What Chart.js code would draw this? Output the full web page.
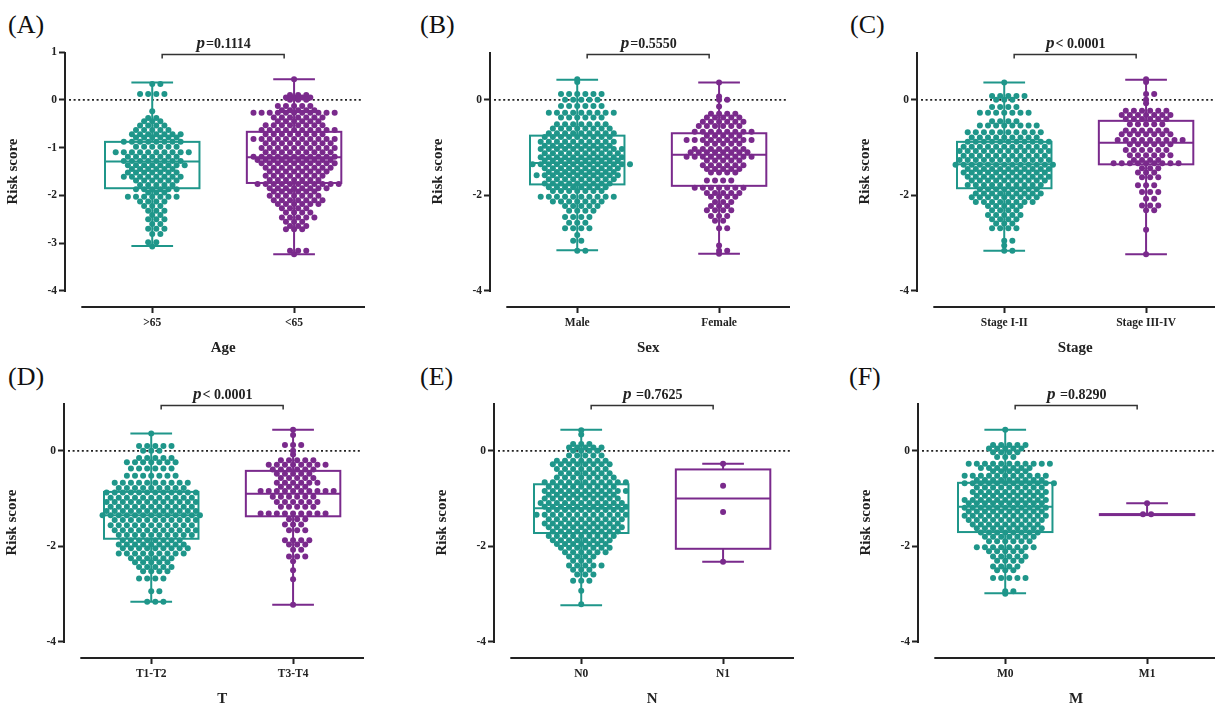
<!DOCTYPE html>
<html>
<head>
<meta charset="UTF-8">
<title>Risk score by clinical feature</title>
<script src="https://cdn.jsdelivr.net/npm/chart.js@4.4.0/dist/chart.umd.min.js"></script>
<style>
    body { margin: 0; width: 1215px; height: 706px; overflow: hidden; background: #fff; position: relative; }
    .panel { position: absolute; }
    .lab { position: absolute; font: 26px "Liberation Serif", serif; line-height: 30px; color: #111; }
</style>
<script>
// categories
const ageCats = ['>65', '<65'];
const sexCats = ['Male', 'Female'];
const stageCats = ['Stage I-II', 'Stage III-IV'];
const tCats = ['T1-T2', 'T3-T4'];
const nCats = ['N0', 'N1'];
const mCats = ['M0', 'M1'];

// box stats per group: [min, q1, median, q3, max]
const ageBox = [[-3.06, -1.85, -1.29, -0.88, 0.36], [-3.23, -1.74, -1.2, -0.67, 0.43]];
const sexBox = [[-3.15, -1.77, -1.32, -0.75, 0.42], [-3.22, -1.8, -1.15, -0.7, 0.36]];
const stageBox = [[-3.16, -1.85, -1.35, -0.88, 0.36], [-3.23, -1.35, -0.9, -0.44, 0.42]];
const tBox = [[-3.16, -1.84, -1.35, -0.86, 0.36], [-3.22, -1.37, -0.9, -0.42, 0.44]];
const nBox = [[-3.23, -1.72, -1.2, -0.7, 0.44], [-2.32, -2.05, -1.0, -0.39, -0.27]];
const mBox = [[-2.98, -1.7, -1.17, -0.67, 0.44], [-1.34, -1.345, -1.335, -1.325, -1.1]];

// risk score of the dots, grouped in rows: score level and number of dots in that row
const ageOldY = [0.33, 0.12, -0.24, -0.38, -0.45, -0.54, -0.63, -0.72, -0.79, -0.88, -0.98, -1.1, -1.19, -1.28, -1.37, -1.45, -1.52, -1.61, -1.69, -1.78, -1.87, -1.94, -2.03, -2.13, -2.22, -2.32, -2.41, -2.5, -2.6, -2.7, -2.81, -2.98, -3.07];
const ageOldN = [2, 4, 1, 2, 3, 4, 5, 7, 6, 8, 6, 10, 7, 8, 8, 6, 7, 8, 6, 5, 6, 3, 7, 4, 3, 3, 2, 3, 2, 3, 2, 2, 1];
const ageYoungY = [0.43, 0.1, 0.05, 0.0, -0.13, -0.22, -0.27, -0.37, -0.45, -0.53, -0.63, -0.72, -0.82, -0.91, -1.01, -1.1, -1.19, -1.26, -1.33, -1.42, -1.5, -1.59, -1.68, -1.76, -1.85, -1.92, -2.01, -2.1, -2.18, -2.27, -2.36, -2.46, -2.55, -2.64, -2.71, -3.16, -3.23];
const ageYoungN = [1, 3, 4, 3, 5, 5, 11, 7, 6, 8, 10, 8, 11, 9, 10, 9, 11, 10, 10, 9, 8, 8, 7, 11, 8, 6, 7, 7, 6, 4, 4, 5, 3, 3, 3, 3, 1];

const maleY = [0.43, 0.37, 0.12, 0.0, -0.13, -0.27, -0.37, -0.51, -0.6, -0.7, -0.78, -0.88, -0.96, -1.03, -1.12, -1.2, -1.27, -1.35, -1.43, -1.51, -1.58, -1.66, -1.75, -1.83, -1.91, -2.03, -2.13, -2.22, -2.32, -2.45, -2.57, -2.69, -2.83, -2.95, -3.16];
const maleN = [1, 1, 6, 5, 6, 9, 6, 7, 8, 9, 9, 10, 9, 11, 10, 11, 10, 13, 10, 9, 11, 9, 9, 8, 7, 10, 7, 5, 4, 4, 3, 4, 1, 2, 2];
const femaleY = [0.36, 0.07, 0.0, -0.14, -0.29, -0.37, -0.46, -0.55, -0.67, -0.75, -0.84, -0.92, -1.03, -1.1, -1.19, -1.27, -1.37, -1.45, -1.52, -1.69, -1.84, -1.95, -2.03, -2.14, -2.22, -2.31, -2.43, -2.53, -2.69, -3.05, -3.16, -3.22];
const femaleN = [1, 1, 2, 1, 4, 5, 6, 6, 8, 5, 9, 5, 7, 8, 9, 5, 6, 5, 4, 4, 7, 5, 4, 3, 3, 4, 3, 2, 2, 1, 2, 1];

const stageEarlyY = [0.36, 0.08, 0.0, -0.15, -0.27, -0.45, -0.54, -0.68, -0.79, -0.88, -0.98, -1.07, -1.17, -1.26, -1.36, -1.45, -1.52, -1.61, -1.69, -1.78, -1.87, -1.96, -2.04, -2.14, -2.22, -2.31, -2.41, -2.5, -2.59, -2.69, -2.95, -3.05, -3.16];
const stageEarlyN = [1, 5, 3, 4, 7, 4, 8, 10, 9, 11, 11, 12, 11, 12, 13, 11, 11, 11, 10, 10, 8, 9, 9, 8, 5, 4, 5, 4, 3, 4, 2, 1, 2];
const stageLateY = [0.43, 0.37, 0.12, 0.0, -0.07, -0.23, -0.32, -0.4, -0.51, -0.64, -0.72, -0.84, -0.93, -1.05, -1.16, -1.26, -1.33, -1.43, -1.52, -1.62, -1.79, -1.93, -2.07, -2.21, -2.31, -2.72, -3.23];
const stageLateN = [1, 1, 2, 1, 1, 6, 7, 6, 5, 6, 7, 9, 6, 6, 6, 4, 9, 3, 3, 3, 3, 3, 2, 3, 2, 1, 1];

const t12Y = [0.36, 0.1, 0.0, -0.15, -0.24, -0.37, -0.52, -0.67, -0.78, -0.87, -0.98, -1.07, -1.17, -1.26, -1.35, -1.45, -1.56, -1.66, -1.76, -1.87, -1.96, -2.04, -2.15, -2.25, -2.33, -2.43, -2.52, -2.67, -2.94, -3.16];
const t12N = [1, 5, 3, 5, 7, 6, 7, 10, 9, 12, 11, 12, 11, 12, 13, 11, 11, 11, 10, 8, 9, 9, 9, 6, 5, 5, 4, 4, 2, 3];
const t34Y = [0.44, 0.33, 0.12, 0.0, -0.08, -0.2, -0.29, -0.39, -0.48, -0.57, -0.67, -0.75, -0.84, -0.96, -1.07, -1.17, -1.31, -1.43, -1.54, -1.66, -1.87, -1.96, -2.07, -2.21, -2.31, -2.5, -2.69, -3.22];
const t34N = [1, 1, 3, 1, 1, 5, 8, 6, 5, 5, 6, 4, 10, 6, 6, 5, 9, 3, 3, 3, 4, 3, 2, 3, 1, 1, 1, 1];

const n0Y = [0.43, 0.34, 0.14, 0.07, 0.0, -0.1, -0.21, -0.28, -0.38, -0.47, -0.56, -0.66, -0.75, -0.84, -0.92, -1.0, -1.09, -1.17, -1.24, -1.34, -1.43, -1.52, -1.6, -1.69, -1.78, -1.87, -1.95, -2.03, -2.12, -2.21, -2.3, -2.4, -2.49, -2.59, -2.72, -2.93, -3.21];
const n0N = [1, 1, 3, 5, 4, 5, 7, 8, 7, 7, 8, 11, 9, 11, 9, 10, 11, 11, 10, 12, 10, 10, 10, 9, 9, 8, 7, 7, 6, 4, 3, 5, 3, 3, 3, 1, 1];
const n1Y = [-0.27, -0.73, -1.28, -2.32];
const n1N = [1, 1, 1, 1];

const m0Y = [0.44, 0.12, 0.05, -0.03, -0.13, -0.27, -0.36, -0.43, -0.52, -0.61, -0.68, -0.77, -0.86, -0.94, -1.03, -1.1, -1.19, -1.27, -1.36, -1.45, -1.54, -1.62, -1.71, -1.8, -1.89, -2.02, -2.1, -2.21, -2.3, -2.42, -2.5, -2.66, -2.94, -2.99];
const m0N = [1, 5, 5, 4, 3, 11, 7, 5, 11, 9, 12, 9, 10, 9, 11, 10, 11, 10, 11, 10, 9, 9, 8, 7, 6, 8, 5, 5, 4, 4, 3, 5, 2, 1];
const m1Y = [-1.1, -1.33];
const m1N = [1, 2];

const TEAL = '#1f968a';
const PURPLE = '#7a2a8c';
const INK = '#222';
const SERIF = '"Liberation Serif", serif';
const GAP = 8.2 / 143.3;   // dot spacing inside a row, in category units

// rows of dots around the group centre; every other row sits half a step over
function swarm(levels, counts, idx) {
    var pts = [];
    levels.forEach(function (y, r) {
        var half = (r % 2 && counts[r] > 1) ? 0.5 : 0;
        for (var k = 0; k < counts[r]; k++) {
            var step = half ? Math.floor(k / 2) + 0.5 : Math.ceil(k / 2);
            var side = (k % 2 === 0) ? (half ? 1 : -1) : (half ? -1 : 1);
            pts.push({x: idx + side * step * GAP, y: y});
        }
    });
    return pts;
}

function makePlugin(p) {
    return {
        id: 'boxSwarm',
        beforeDatasetsDraw: function (chart) {
            var ctx = chart.ctx, a = chart.chartArea, ys = chart.scales.y;
            var y0 = ys.getPixelForValue(0);
            ctx.save();
            ctx.setLineDash([2, 2.6]);
            ctx.lineWidth = 1.8;
            ctx.strokeStyle = INK;
            ctx.beginPath();
            ctx.moveTo(a.left + 4, y0);
            ctx.lineTo(a.right - 2, y0);
            ctx.stroke();
            ctx.restore();
        },
        afterDatasetsDraw: function (chart) {
            var ctx = chart.ctx, xs = chart.scales.x, ys = chart.scales.y;
            ctx.save();
            ctx.lineWidth = 2;
            p.boxes.forEach(function (b, i) {
                ctx.strokeStyle = i === 0 ? TEAL : PURPLE;
                var xl = xs.getPixelForValue(i - 0.333), xr = xs.getPixelForValue(i + 0.333);
                var xc = xs.getPixelForValue(i);
                var cl = xs.getPixelForValue(i - 0.147), cr = xs.getPixelForValue(i + 0.147);
                var yMin = ys.getPixelForValue(b[0]), yQ1 = ys.getPixelForValue(b[1]);
                var yMed = ys.getPixelForValue(b[2]), yQ3 = ys.getPixelForValue(b[3]);
                var yMax = ys.getPixelForValue(b[4]);
                ctx.strokeRect(xl, yQ3, xr - xl, yQ1 - yQ3);
                ctx.beginPath();
                ctx.moveTo(xl, yMed); ctx.lineTo(xr, yMed);
                ctx.moveTo(xc, yQ3); ctx.lineTo(xc, yMax);
                ctx.moveTo(xc, yQ1); ctx.lineTo(xc, yMin);
                ctx.moveTo(cl, yMax); ctx.lineTo(cr, yMax);
                ctx.moveTo(cl, yMin); ctx.lineTo(cr, yMin);
                ctx.stroke();
            });
            ctx.restore();
        },
        afterDraw: function (chart) {
            var ctx = chart.ctx, a = chart.chartArea, xs = chart.scales.x, ys = chart.scales.y;
            ctx.save();
            ctx.strokeStyle = INK;
            ctx.lineWidth = 2;
            ctx.beginPath();
            ctx.moveTo(a.left, ys.getPixelForValue(1));
            ctx.lineTo(a.left, ys.getPixelForValue(-4) + 1);
            ctx.moveTo(xs.getPixelForValue(-0.5), a.bottom);
            ctx.lineTo(xs.getPixelForValue(1.5), a.bottom);
            ctx.stroke();

            // significance bracket
            var by = ys.getPixelForValue(0.95);
            var bl = xs.getPixelForValue(0.07), br = xs.getPixelForValue(0.93);
            ctx.strokeStyle = '#333';
            ctx.lineWidth = 1.5;
            ctx.beginPath();
            ctx.moveTo(bl, by + 4); ctx.lineTo(bl, by); ctx.lineTo(br, by); ctx.lineTo(br, by + 4);
            ctx.stroke();

            var cx = xs.getPixelForValue(0.5);
            ctx.fillStyle = INK;
            ctx.textBaseline = 'alphabetic';
            ctx.font = 'italic bold 17px ' + SERIF;
            var wp = ctx.measureText('p').width;
            ctx.font = 'bold 14px ' + SERIF;
            var wr = ctx.measureText(p.pText).width;
            var sx = cx - (wp + wr) / 2;
            ctx.font = 'italic bold 17px ' + SERIF;
            ctx.fillText('p', sx, by - 6);
            ctx.font = 'bold 14px ' + SERIF;
            ctx.fillText(p.pText, sx + wp + 1, by - 6);

            // axis titles
            ctx.font = 'bold 15px ' + SERIF;
            ctx.textAlign = 'center';
            ctx.textBaseline = 'middle';
            ctx.fillText(p.xTitle, cx, a.bottom + 41);
            ctx.translate(a.left - 52, (ys.getPixelForValue(1) + ys.getPixelForValue(-4)) / 2);
            ctx.rotate(-Math.PI / 2);
            ctx.fillText('Risk score', 0, 0);
            ctx.restore();
        }
    };
}

const panels = [
    {id: 'cA', cats: ageCats, boxes: ageBox, xTitle: 'Age', pText: '=0.1114', yTicks: [1, 0, -1, -2, -3, -4],
        dots: [swarm(ageOldY, ageOldN, 0), swarm(ageYoungY, ageYoungN, 1)], yw: 65},
    {id: 'cB', cats: sexCats, boxes: sexBox, xTitle: 'Sex', pText: '=0.5550', yTicks: [0, -2, -4],
        dots: [swarm(maleY, maleN, 0), swarm(femaleY, femaleN, 1)], yw: 75},
    {id: 'cC', cats: stageCats, boxes: stageBox, xTitle: 'Stage', pText: '< 0.0001', yTicks: [0, -2, -4],
        dots: [swarm(stageEarlyY, stageEarlyN, 0), swarm(stageLateY, stageLateN, 1)], yw: 102},
    {id: 'cD', cats: tCats, boxes: tBox, xTitle: 'T', pText: '< 0.0001', yTicks: [0, -2, -4],
        dots: [swarm(t12Y, t12N, 0), swarm(t34Y, t34N, 1)], yw: 64},
    {id: 'cE', cats: nCats, boxes: nBox, xTitle: 'N', pText: ' =0.7625', yTicks: [0, -2, -4],
        dots: [swarm(n0Y, n0N, 0), swarm(n1Y, n1N, 1)], yw: 79},
    {id: 'cF', cats: mCats, boxes: mBox, xTitle: 'M', pText: ' =0.8290', yTicks: [0, -2, -4],
        dots: [swarm(m0Y, m0N, 0), swarm(m1Y, m1N, 1)], yw: 103}
];

window.onload = function () {
    panels.forEach(function (p) {
        var tickFont = {family: SERIF, size: 11.5, weight: 'bold'};
        new Chart(document.getElementById(p.id).getContext('2d'), {
            type: 'scatter',
            data: {
                datasets: [
                    {data: p.dots[0], backgroundColor: TEAL, borderWidth: 0, pointRadius: 3.0, pointHoverRadius: 3.0},
                    {data: p.dots[1], backgroundColor: PURPLE, borderWidth: 0, pointRadius: 3.0, pointHoverRadius: 3.0}
                ]
            },
            options: {
                responsive: true,
                maintainAspectRatio: false,
                animation: false,
                events: [],
                layout: {padding: {top: 52, left: 0, right: 0, bottom: 0}},
                plugins: {legend: {display: false}, tooltip: {enabled: false}},
                scales: {
                    x: {
                        type: 'linear', min: -0.615, max: 1.5,
                        afterBuildTicks: function (s) { s.ticks = [{value: 0}, {value: 1}]; },
                        afterFit: function (s) { s.height = 53; },
                        ticks: {callback: function (v, i) { return p.cats[i]; }, font: tickFont, color: INK, padding: 3},
                        grid: {drawOnChartArea: false, drawTicks: true, tickLength: 6, tickWidth: 2, tickColor: INK},
                        border: {display: false}
                    },
                    y: {
                        min: -4.335, max: 1,
                        afterBuildTicks: function (s) { s.ticks = p.yTicks.map(function (v) { return {value: v}; }); },
                        afterFit: function (s) { s.width = p.yw; },
                        ticks: {font: tickFont, color: INK, padding: 2},
                        grid: {drawOnChartArea: false, drawTicks: true, tickLength: 6, tickWidth: 2, tickColor: INK},
                        border: {display: false}
                    }
                }
            },
            plugins: [makePlugin(p)]
        });
    });
};
</script>
</head>
<body>
    <div class="lab" style="left:8px; top:10px;">(A)</div>
    <div class="lab" style="left:420px; top:10px;">(B)</div>
    <div class="lab" style="left:850px; top:10px;">(C)</div>
    <div class="lab" style="left:8px; top:362px;">(D)</div>
    <div class="lab" style="left:420px; top:362px;">(E)</div>
    <div class="lab" style="left:849px; top:362px;">(F)</div>

    <div class="panel" style="left:0px; top:0px; width:368px; height:360px;"><canvas id="cA"></canvas></div>
    <div class="panel" style="left:415px; top:0px; width:378px; height:360px;"><canvas id="cB"></canvas></div>
    <div class="panel" style="left:815px; top:0px; width:405px; height:360px;"><canvas id="cC"></canvas></div>
    <div class="panel" style="left:0px; top:351px; width:367px; height:360px;"><canvas id="cD"></canvas></div>
    <div class="panel" style="left:415px; top:351px; width:382px; height:360px;"><canvas id="cE"></canvas></div>
    <div class="panel" style="left:815px; top:351px; width:406px; height:360px;"><canvas id="cF"></canvas></div>
</body>
</html>
